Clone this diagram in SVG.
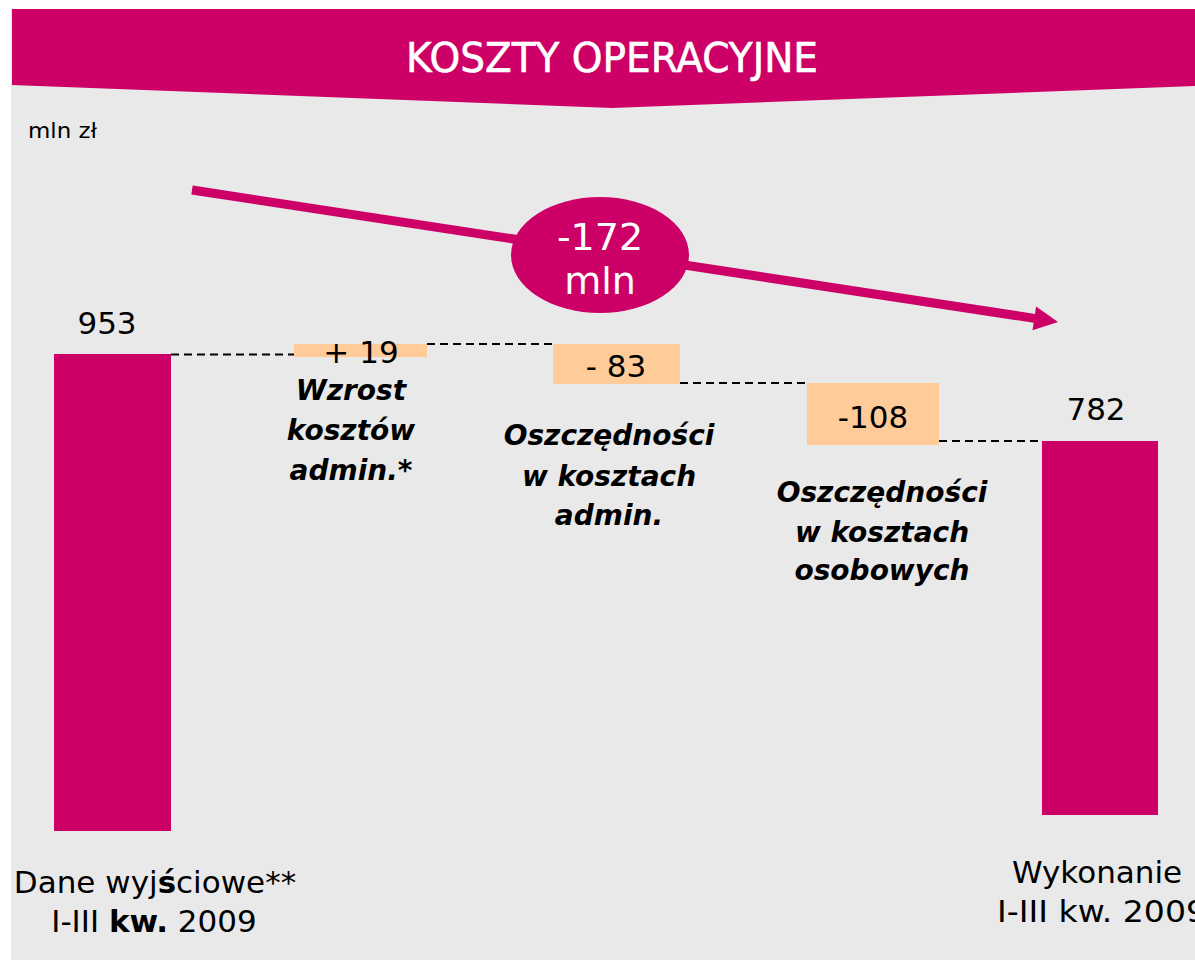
<svg xmlns="http://www.w3.org/2000/svg" width="1195" height="960" viewBox="0 0 1195 960">
<style>
.num{font-family:"DejaVu Sans","Liberation Sans",sans-serif;font-size:31px;fill:#000;text-anchor:middle}
.lbl{font-family:"DejaVu Sans","Liberation Sans",sans-serif;font-size:28px;font-weight:bold;font-style:italic;fill:#000;text-anchor:middle}
.cat{font-family:"DejaVu Sans","Liberation Sans",sans-serif;font-size:31px;fill:#000;text-anchor:middle}
.wht{font-family:"DejaVu Sans","Liberation Sans",sans-serif;fill:#fff;text-anchor:middle}
.bar{fill:#CC0066}
.delta{fill:#FFCC99}
.dash{stroke:#000;stroke-width:2;stroke-dasharray:8 5;fill:none}
</style>
<rect x="0" y="0" width="1195" height="960" fill="#fff"/>
<rect x="11" y="9" width="1184" height="951" fill="#E9E9E9"/>
<g id="header">
<polygon points="12,9 1195,9 1195,86 612,108 12,85" fill="#CC0066"/>
<text class="wht" x="612" y="72" font-size="41" stroke="#fff" stroke-width="0.6" textLength="412" lengthAdjust="spacingAndGlyphs">KOSZTY OPERACYJNE</text>
</g>
<text x="28" y="138" font-family="DejaVu Sans, Liberation Sans, sans-serif" font-size="22" fill="#000" textLength="69" lengthAdjust="spacingAndGlyphs">mln zł</text>
<g id="connectors">
<line class="dash" x1="171" y1="354.5" x2="294" y2="354.5"/>
<line class="dash" x1="427" y1="344" x2="553" y2="344"/>
<line class="dash" x1="680" y1="383" x2="807" y2="383"/>
<line class="dash" x1="939" y1="441" x2="1042" y2="441"/>
<line x1="192" y1="190" x2="1036" y2="318.6" stroke="#CC0066" stroke-width="9"/>
<polygon points="1058,322 1032.5,330.3 1036.1,306.5" fill="#CC0066"/>
</g>
<g id="total">
<ellipse cx="600" cy="255" rx="89" ry="58" fill="#CC0066"/>
<text class="wht" x="600" y="250" font-size="38">-172</text>
<text class="wht" x="600" y="294" font-size="38">mln</text>
</g>
<g id="start">
<rect class="bar" x="54" y="354" width="117" height="477"/>
<text class="num" x="107" y="334">953</text>
<text class="cat" x="155" y="893">Dane wyj<tspan font-weight="bold">ś</tspan>ciowe**</text>
<text class="cat" x="154" y="932">I-III <tspan font-weight="bold">kw.</tspan> 2009</text>
</g>
<g id="admin-increase">
<rect class="delta" x="294" y="344" width="133" height="13"/>
<text class="num" x="361" y="363">+ 19</text>
<text class="lbl" x="351" y="400">Wzrost</text>
<text class="lbl" x="351" y="440">kosztów</text>
<text class="lbl" x="351" y="480">admin.*</text>
</g>
<g id="admin-savings">
<rect class="delta" x="553" y="344" width="127" height="40"/>
<text class="num" x="616" y="377">- 83</text>
<text class="lbl" x="609" y="445">Oszczędności</text>
<text class="lbl" x="609" y="486">w kosztach</text>
<text class="lbl" x="609" y="525">admin.</text>
</g>
<g id="staff-savings">
<rect class="delta" x="807" y="383" width="132" height="62"/>
<text class="num" x="873" y="428">-108</text>
<text class="lbl" x="882" y="502">Oszczędności</text>
<text class="lbl" x="882" y="542">w kosztach</text>
<text class="lbl" x="882" y="580">osobowych</text>
</g>
<g id="end">
<rect class="bar" x="1042" y="441" width="116" height="374"/>
<text class="num" x="1096" y="420">782</text>
<text class="cat" x="1097" y="883">Wykonanie</text>
<text x="997" y="922" font-family="DejaVu Sans, Liberation Sans, sans-serif" font-size="31" fill="#000" style="text-anchor:start" textLength="210" lengthAdjust="spacingAndGlyphs">I-III kw. 2009</text>
</g>
</svg>
